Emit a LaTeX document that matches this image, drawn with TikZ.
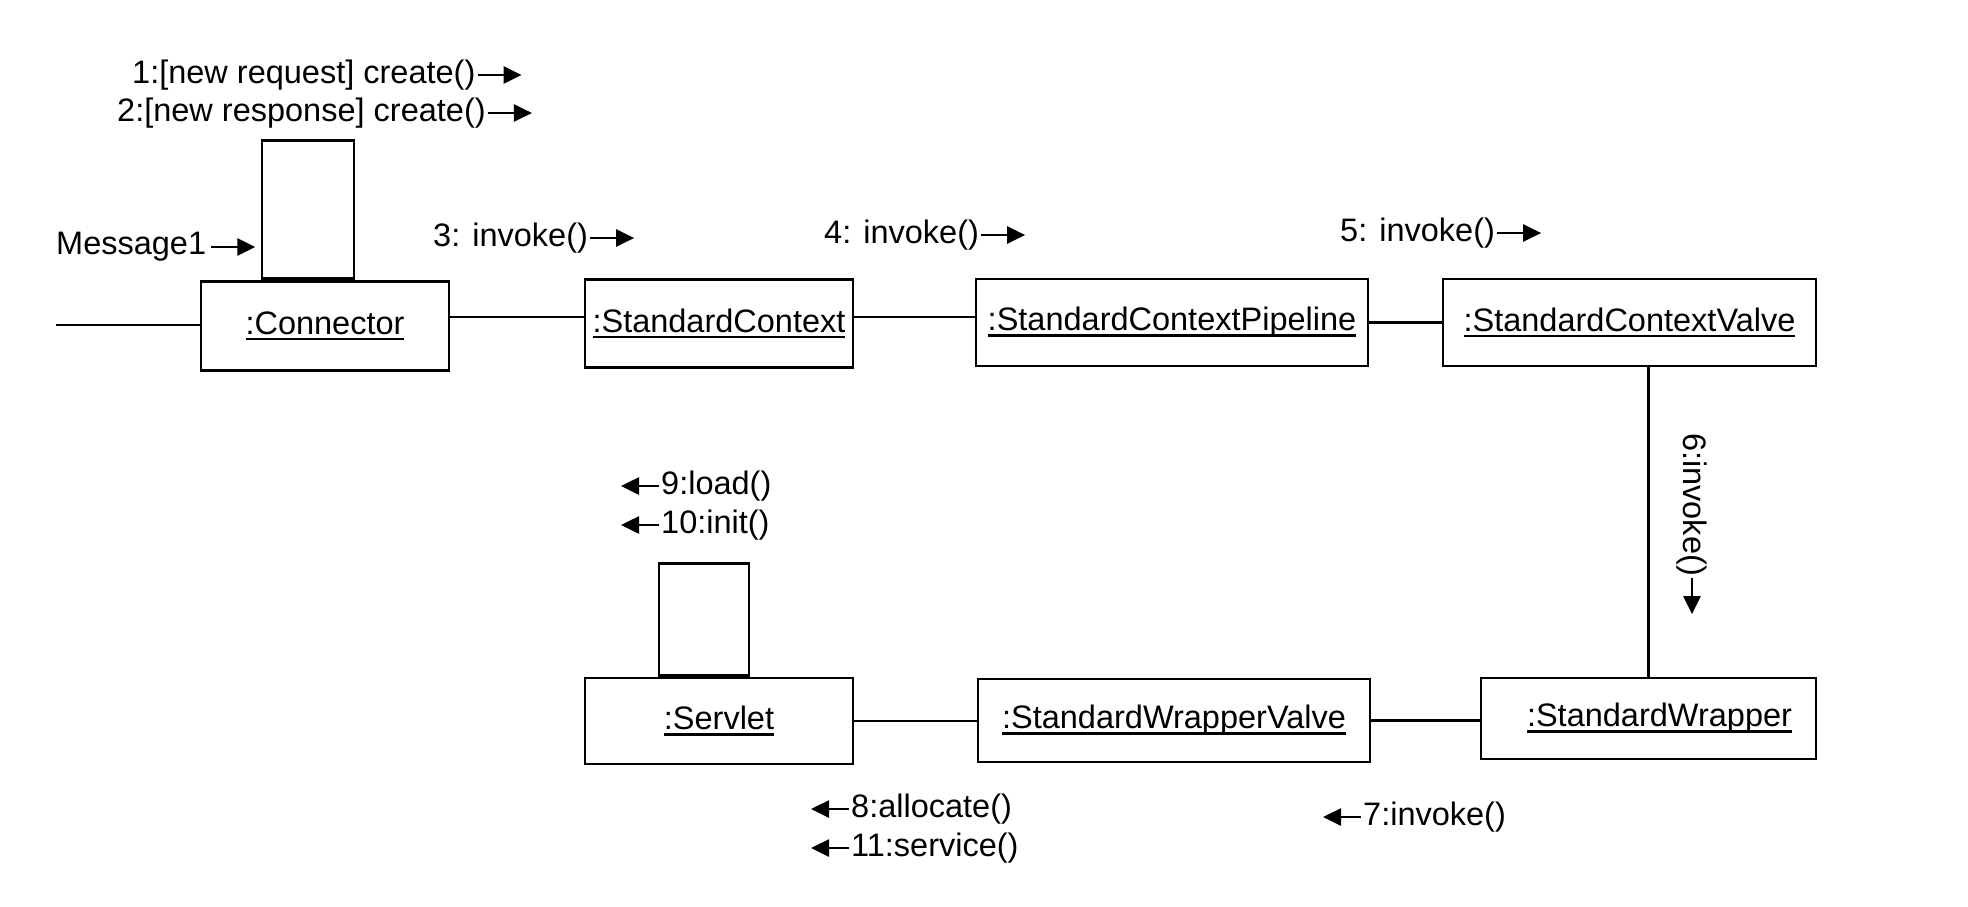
\documentclass[tikz,border=0pt]{standalone}
\usepackage{fontspec}
\setmainfont{Liberation Sans}
\usetikzlibrary{arrows.meta}
\newcommand{\ulabel}[1]{\setbox0\hbox{#1}\rlap{\rule[-6pt]{\wd0}{2.5pt}}\box0}
\begin{document}
\begin{tikzpicture}[x=1pt,y=-1pt,
  font=\fontsize{32.5}{38}\selectfont,
  obj/.style={draw, line width=2.8pt, minimum width=#1, minimum height=88pt, inner sep=0pt},
  selfloop/.style={draw, line width=2.8pt, inner sep=0pt, anchor=south},
  conn/.style={line width=2.8pt},
  msg/.style={line width=2.6pt, -{Triangle[length=18pt,width=17pt]}},
  lbl/.style={inner sep=0pt, anchor=west}]
\useasboundingbox (0,0) rectangle (1968,906);

% objects
\node[obj=248pt, minimum height=89pt] (con) at (325,326) {\ulabel{:Connector}};
\node[obj=268pt] (sc) at (719,323.5) {\ulabel{:StandardContext}};
\node[obj=392pt, minimum height=87pt] (scp) at (1172,322.5) {\ulabel{:StandardContextPipeline}};
\node[obj=373pt, minimum height=87pt] (scv) at (1629.5,322.5) {\ulabel{:StandardContextValve}};
\node[obj=335pt, minimum height=81pt] (sw) at (1648.5,718.5) {\hspace*{22pt}\ulabel{:StandardWrapper}};
\node[obj=392pt, minimum height=83pt] (swv) at (1174,720.5) {\ulabel{:StandardWrapperValve}};
\node[obj=268pt, minimum height=86pt] (srv) at (719,721) {\ulabel{:Servlet}};

% self loops
\node[selfloop, minimum width=92pt, minimum height=138pt] (conloop) at ([xshift=-17pt]con.north) {};
\node[selfloop, minimum width=90pt, minimum height=112pt] (srvloop) at ([xshift=-15pt]srv.north) {};

% links
\coordinate (start) at (56,325);
\coordinate (ya) at (0,317);
\draw[conn] (start) -- (start -| con.west);
\draw[conn] (con.east |- ya) -- (sc.west |- ya);
\draw[conn] (sc.east |- ya) -- (scp.west |- ya);
\draw[conn] (scp.east) -- (scp.east -| scv.west);
\draw[conn] (sw.north |- scv.south) -- (sw.north);
\draw[conn] (swv.east) -- (swv.east -| sw.west);
\draw[conn] (srv.east) -- (srv.east -| swv.west);

% messages (right)
\node[lbl] (m1) at (132,75) {1:[new request] create()};
\draw[msg] ([xshift=2pt]m1.east) -- ++(44,0);
\node[lbl] (m2) at (117,113) {2:[new response] create()};
\draw[msg] ([xshift=2pt]m2.east) -- ++(44,0);
\node[lbl] (m0) at (56,247) {Message1};
\draw[msg] ([xshift=5pt]m0.east) -- ++(44,0);
\node[lbl] (m3) at (433,238) {3: invoke()};
\draw[msg] ([xshift=2pt]m3.east) -- ++(44,0);
\node[lbl] (m4) at (824,235) {4: invoke()};
\draw[msg] ([xshift=2pt]m4.east) -- ++(44,0);
\node[lbl] (m5) at (1340,233) {5: invoke()};
\draw[msg] ([xshift=2pt]m5.east) -- ++(44,0);

% message 6 (down)
\node[lbl, rotate=-90] (m6) at (1692,433) {6:invoke()};
\draw[msg] ([yshift=-2pt]m6.east) -- ++(0,36);

% messages (left)
\node[lbl] (m9) at (661,486) {9:load()};
\draw[msg] ([xshift=-2pt]m9.west) -- ++(-38,0);
\node[lbl] (m10) at (661,525) {10:init()};
\draw[msg] ([xshift=-2pt]m10.west) -- ++(-38,0);
\node[lbl] (m8) at (851,809) {8:allocate()};
\draw[msg] ([xshift=-2pt]m8.west) -- ++(-38,0);
\node[lbl] (m11) at (851,848) {11:service()};
\draw[msg] ([xshift=-2pt]m11.west) -- ++(-38,0);
\node[lbl] (m7) at (1363,817) {7:invoke()};
\draw[msg] ([xshift=-2pt]m7.west) -- ++(-38,0);
\end{tikzpicture}
\end{document}
